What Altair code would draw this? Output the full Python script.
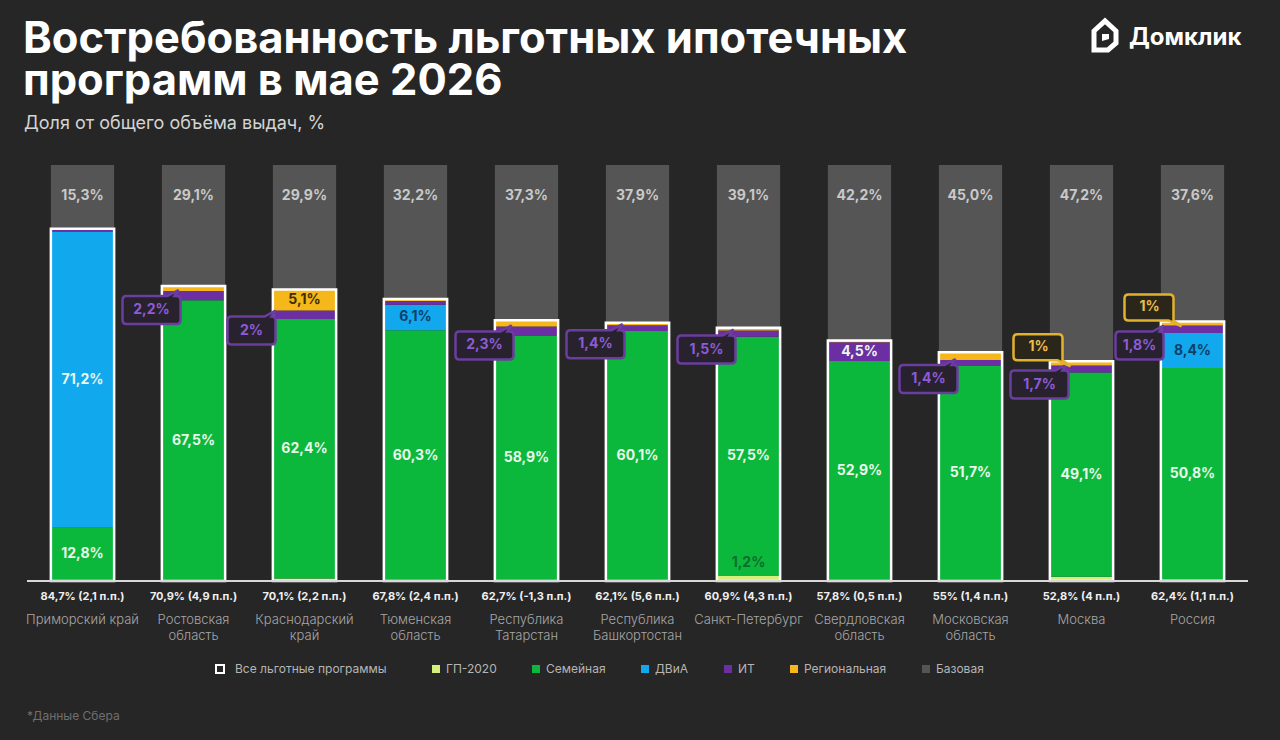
import altair as alt
import pandas as pd

categories = ["Приморский край", "Ростовская область", "Краснодарский край",
              "Тюменская область", "Республика Татарстан", "Республика Башкортостан",
              "Санкт-Петербург", "Свердловская область", "Московская область",
              "Москва", "Россия"]
category_labels = ["Приморский край", "Ростовская\nобласть", "Краснодарский\nкрай",
                   "Тюменская\nобласть", "Республика\nТатарстан", "Республика\nБашкортостан",
                   "Санкт-Петербург", "Свердловская\nобласть", "Московская\nобласть",
                   "Москва", "Россия"]
programs = ["ГП-2020", "Семейная", "ДВиА", "ИТ", "Региональная", "Базовая"]

gp2020   = [0.0, 0.0, 0.6, 0.0, 0.0, 0.0, 1.2, 0.0, 0.0, 1.0, 0.4]
family   = [12.8, 67.5, 62.4, 60.3, 58.9, 60.1, 57.5, 52.9, 51.7, 49.1, 50.8]
dvia     = [71.2, 0.0, 0.0, 6.1, 0.0, 0.0, 0.0, 0.0, 0.0, 0.0, 8.4]
it       = [0.4, 2.2, 2.0, 0.9, 2.3, 1.4, 1.5, 4.5, 1.4, 1.7, 1.8]
regional = [0.3, 1.2, 5.1, 0.5, 1.5, 0.6, 0.7, 0.4, 1.9, 1.0, 1.0]
base     = [15.3, 29.1, 29.9, 32.2, 37.3, 37.9, 39.1, 42.2, 45.0, 47.2, 37.6]

total_share  = [84.7, 70.9, 70.1, 67.8, 62.7, 62.1, 60.9, 57.8, 55.0, 52.8, 62.4]
total_change = [2.1, 4.9, 2.2, 2.4, -1.3, 5.6, 4.3, 0.5, 1.4, 4.0, 1.1]

it_callouts = ["Ростовская область", "Краснодарский край", "Республика Татарстан",
               "Республика Башкортостан", "Санкт-Петербург", "Московская область",
               "Москва", "Россия"]
regional_callouts = ["Москва", "Россия"]

# ---------- styles ----------
BG = "#262626"
prog_colors = ["#d6ee7c", "#0cb83c", "#12a8ee", "#6c2fa3", "#f5b719", "#555555"]
FONT = "Inter"


def fmt(v, keep_zero=False):
    s = f"{v:.1f}"
    if s.endswith(".0") and not keep_zero:
        s = s[:-2]
    return s.replace(".", ",")


series = [gp2020, family, dvia, it, regional, base]
seg_rows, lab_rows, it_rows = [], [], []
for i, c in enumerate(categories):
    cum = 0.0
    it_top = 0.0
    for k, p in enumerate(programs):
        v = series[k][i]
        y0, y1 = cum, cum + v
        cum = y1
        seg_rows.append({"cat": c, "prog": p, "v": v, "y0": y0, "y1": y1, "ord": k})
        if p == "ИТ":
            it_top = y1
        if p == "Базовая":
            lab_rows.append({"cat": c, "text": fmt(v, True) + "%", "ypos": 92.5, "kind": "base"})
        elif p == "ГП-2020":
            if v >= 1.1:
                lab_rows.append({"cat": c, "text": fmt(v) + "%", "ypos": y1 + 3.1, "kind": "gp"})
        elif v >= 4:
            if p == "ДВиА":
                kind = "light" if v >= 20 else "darkblue"
            elif p == "Региональная":
                kind = "darkyellow"
            else:
                kind = "light"
            lab_rows.append({"cat": c, "text": fmt(v) + "%", "ypos": (y0 + y1) / 2, "kind": kind})
    if c in it_callouts:
        it_rows.append({"cat": c, "text": fmt(it[i]) + "%", "anchor": it_top})

seg = pd.DataFrame(seg_rows)
labels = pd.DataFrame(lab_rows)
it_df = pd.DataFrame(it_rows)
reg_df = pd.DataFrame([{"cat": c, "text": fmt(regional[categories.index(c)]) + "%",
                        "anchor": total_share[categories.index(c)]} for c in regional_callouts])
outline = pd.DataFrame({"cat": categories, "total": total_share,
                        "lg": ["Все льготные программы"] * len(categories)})
bottom = pd.DataFrame({"cat": categories, "label": category_labels,
                       "tot": [f"{fmt(t)}% ({fmt(d)} п.п.)" for t, d in zip(total_share, total_change)]})

X = alt.X("cat:N", sort=categories, axis=None,
          scale=alt.Scale(paddingInner=0.43, paddingOuter=0.215))
YS = alt.Scale(domain=[0, 100], nice=False, zero=True)

bars = alt.Chart(seg).mark_bar().encode(
    x=X,
    y=alt.Y("y0:Q", scale=YS, axis=None),
    y2="y1:Q",
    color=alt.Color("prog:N", scale=alt.Scale(domain=programs, range=prog_colors),
                    legend=alt.Legend(title=None, orient="none", legendX=403, legendY=498,
                                      direction="horizontal", symbolType="square",
                                      symbolSize=64, symbolStrokeWidth=0,
                                      labelColor="#b5b5b5", labelFontSize=12, labelFont=FONT,
                                      labelOffset=4, columnPadding=33, labelLimit=300)),
)

frame = alt.Chart(outline).mark_bar(fill="transparent", strokeWidth=2.5).encode(
    x=X,
    y=alt.Y("total:Q", scale=YS, axis=None),
    y2=alt.datum(0),
    stroke=alt.Stroke("lg:N", scale=alt.Scale(domain=["Все льготные программы"], range=["#ffffff"]),
                      legend=alt.Legend(title=None, orient="none", legendX=187, legendY=498,
                                        symbolType="square", symbolSize=64, symbolStrokeWidth=2,
                                        symbolFillColor="transparent", symbolStrokeColor="#ffffff",
                                        labelColor="#b5b5b5", labelFontSize=12, labelFont=FONT,
                                        labelOffset=9, labelLimit=300)),
)

seg_labels = alt.Chart(labels).mark_text(fontSize=14, fontWeight="bold", font=FONT,
                                         baseline="middle").encode(
    x=X,
    y=alt.Y("ypos:Q", scale=YS, axis=None),
    text="text:N",
    color=alt.Color("kind:N", legend=None,
                    scale=alt.Scale(domain=["base", "light", "darkblue", "darkyellow", "gp"],
                                    range=["#c9c9c9", "#e9f8ea", "#0d3f68", "#3d2e00", "#0b6e2b"])),
)

# callout shapes (pixel paths, size=4 -> scale 1)
IT_PATH = ("M -67 5 L -26 5 L -15 -1 L -19 5 L -17 5 Q -13 5 -13 9 L -13 29 Q -13 33 -17 33 "
           "L -67 33 Q -71 33 -71 29 L -71 9 Q -71 5 -67 5 Z")
IT_PATH_N = ("M -73 6 L -40 6 L -29 0 L -33 6 L -33 6 Q -29 6 -29 10 L -29 30 Q -29 34 -33 34 "
             "L -73 34 Q -77 34 -77 30 L -77 10 Q -77 6 -73 6 Z")
REG_PATH = ("M -64 -27 L -23 -27 Q -19 -27 -19 -23 L -19 -1 L -11 5 L -24 -1 L -64 -1 "
            "Q -68 -1 -68 -5 L -68 -23 Q -68 -27 -64 -27 Z")

narrow = ["Краснодарский край", "Россия"]
it_norm = it_df[~it_df["cat"].isin(narrow)]
it_narr = it_df[it_df["cat"].isin(narrow)]

PURPLE_STROKE = "#6a3d9e"
PURPLE_TEXT = "#8c5cd6"


def callout(df, path, dx, dy, stroke, fill, tcolor):
    enc = dict(x=X, y=alt.Y("anchor:Q", scale=YS, axis=None))
    box = alt.Chart(df).mark_point(shape=path, size=4, filled=True, fill=fill, stroke=stroke,
                                   strokeWidth=2.5, opacity=1, fillOpacity=1).encode(**enc)
    txt = alt.Chart(df).mark_text(dx=dx, dy=dy, fontSize=14, fontWeight="bold", font=FONT,
                                  color=tcolor, baseline="middle").encode(text="text:N", **enc)
    return [box, txt]


layers = [bars, frame, seg_labels]
layers += callout(it_norm, IT_PATH, -42, 19, PURPLE_STROKE, "#28222e", PURPLE_TEXT)
layers += callout(it_narr, IT_PATH_N, -53, 20, PURPLE_STROKE, "#28222e", PURPLE_TEXT)
layers += callout(reg_df, REG_PATH, -43, -14, "#e2b12e", "#2a2619", "#e9be4e")

baseline = alt.Chart(outline).mark_rule(color="#d9d9d9", strokeWidth=1.5).encode(
    y=alt.Y("datum0:Q", scale=YS, axis=None)).transform_calculate(datum0="0")

tot_text = alt.Chart(bottom).mark_text(fontSize=11, fontWeight="bold", font=FONT,
                                       color="#f0f0f0", baseline="middle").encode(
    x=X, y=alt.value(432), text="tot:N")
cat_text = alt.Chart(bottom).mark_text(fontSize=13, fontWeight=300, font=FONT, color="#a6a6a6",
                                       baseline="top", lineBreak="\n", lineHeight=16).encode(
    x=X, y=alt.value(449), text="label:N")

one = pd.DataFrame({"a": [1]})
title1 = alt.Chart(one).mark_text(
    text="Востребованность льготных ипотечных", fontSize=43.5, fontWeight="bold", font=FONT,
    color="#ffffff", align="left", baseline="alphabetic").encode(x=alt.value(-4), y=alt.value(-112))
title2 = alt.Chart(one).mark_text(
    text="программ в мае 2026", fontSize=43.5, fontWeight="bold", font=FONT,
    color="#ffffff", align="left", baseline="alphabetic").encode(x=alt.value(-4), y=alt.value(-70))
subtitle = alt.Chart(one).mark_text(
    text="Доля от общего объёма выдач, %", fontSize=18, font=FONT, color="#d4d4d4",
    align="left", baseline="alphabetic").encode(x=alt.value(-3), y=alt.value(-36))
foot = alt.Chart(one).mark_text(
    text="*Данные Сбера", fontSize=12, font=FONT, color="#6f6f6f",
    align="left", baseline="middle").encode(x=alt.value(0), y=alt.value(551))
logo_txt = alt.Chart(one).mark_text(
    text="Домклик", fontSize=24, fontWeight="bold", font=FONT, color="#ffffff",
    align="left", baseline="alphabetic").encode(x=alt.value(1102), y=alt.value(-120))
HOUSE = "M -11 -4 L 0 -14 L 11 -4 L 11 8 L 3 15 L -11 15 Z"
logo_icon = alt.Chart(one).mark_point(shape=HOUSE, size=4, filled=False, stroke="#ffffff",
                                      strokeWidth=5, opacity=1).encode(
    x=alt.value(1078), y=alt.value(-130))
HOUSE_IN = "M -3 6 L -3 -1 L 4 -1 L 4 4 Z"
logo_in = alt.Chart(one).mark_point(shape=HOUSE_IN, size=4, filled=True, fill="#ffffff",
                                    strokeWidth=0, opacity=1).encode(
    x=alt.value(1078), y=alt.value(-130))

layers += [baseline, tot_text, cat_text, title1, title2, subtitle, foot, logo_txt, logo_icon, logo_in]

chart = alt.layer(*layers).resolve_scale(color="independent").properties(
    width=1221, height=416,
    autosize=alt.AutoSizeParams(type="none"),
    padding={"left": 27, "top": 165, "right": 32, "bottom": 159},
).configure(background=BG, font=FONT).configure_view(stroke=None)

chart.save("out.html", embed_options={"renderer": "svg", "actions": False})
